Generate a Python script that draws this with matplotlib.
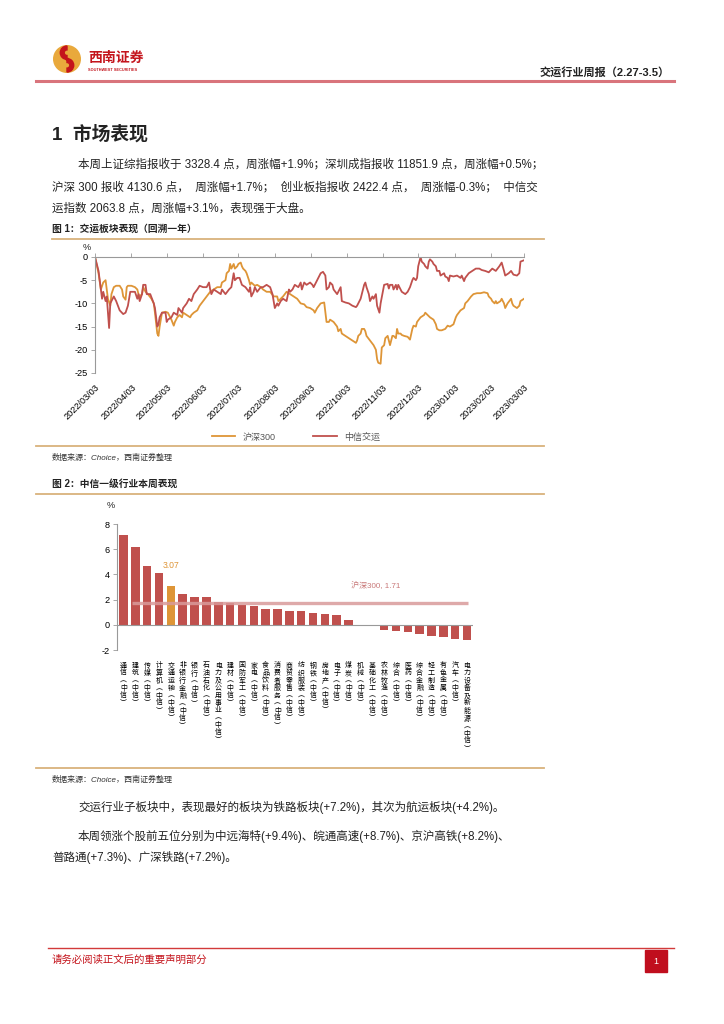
import matplotlib
matplotlib.use("Agg")
import matplotlib.pyplot as plt
from matplotlib.lines import Line2D
from matplotlib.patches import Circle, Rectangle, Wedge
import pandas as pd

plt.rcParams['font.family'] = ['Liberation Sans', 'Noto Sans CJK SC', 'DejaVu Sans']
plt.rcParams['axes.unicode_minus'] = False

# ======================
# DATA
# ======================
START = pd.Timestamp("2022-03-03")

# 中信交运, cumulative % since 2022/03/03 (days after start, value)
jy_days = [0, 3, 6, 7, 9, 10, 12, 13, 16, 18, 21, 24, 26, 28, 30, 34, 36, 37, 38, 40,
           41, 43, 44, 47, 50, 51, 53, 54, 55, 57, 60, 61, 62, 65, 67, 70, 71, 74, 75, 78,
           80, 82, 84, 87, 89, 92, 95, 97, 98, 99, 101, 104, 107, 108, 111, 114, 116, 118, 119, 121,
           123, 125, 128, 131, 132, 133, 135, 136, 138, 141, 143, 146, 149, 151, 152, 153, 155, 156, 158, 160,
           163, 165, 166, 168, 170, 173, 175, 176, 178, 180, 183, 185, 186, 189, 192, 194, 196, 197, 199, 200,
           202, 203, 206, 209, 210, 213, 216, 219, 222, 223, 226, 229, 230, 231, 233, 234, 236, 237, 239, 240,
           242, 243, 246, 249, 250, 251, 253, 254, 256, 257, 258, 261, 264, 266, 268, 270, 271, 273, 274, 275,
           277, 278, 280, 281, 283, 284, 285, 287, 288, 290, 291, 293, 294, 297, 298, 300, 301, 302, 305, 308,
           311, 312, 314, 315, 318, 321, 324, 327, 329, 332, 335, 338, 341, 344, 346, 348, 349, 352, 354, 356,
           359, 361, 362, 365]
jy_vals = [0, -3, -9, -7.5, -9.5, -8.5, -15.3, -10, -8.5, -9.5, -11.5, -12.3, -12, -10.5, -7.5, -7.5, -9, -8, -9.5, -8,
           -6, -6, -8, -8, -10, -11, -15, -14.5, -13, -12, -12, -14, -13.5, -13, -12, -12.5, -11, -12, -11, -10,
           -9, -9.5, -8, -7, -6.2, -6.5, -6.5, -5.5, -7, -8, -7, -7.5, -8, -7, -8, -7, -6.5, -3.5, -5, -4.5,
           -4.5, -6, -6.5, -7.5, -6.5, -8.5, -7.5, -6.5, -7.5, -6.5, -6.5, -6, -6.5, -8, -9.5, -11, -10, -10.5, -9.5, -9,
           -9.5, -7, -7.5, -7, -6, -6.5, -5.5, -7, -5.5, -6, -5.5, -6, -6.5, -5, -3.5, -3.2, -4, -7, -6.5, -5.5,
           -6, -7, -8, -6.5, -9.5, -9.8, -10, -10.5, -10.8, -10.5, -9, -6, -5.5, -6.5, -8, -9.5, -8.5, -9, -8, -10.5,
           -12, -10, -6, -5.8, -6.8, -6, -6, -7, -6, -7, -6, -7.5, -8, -7.5, -6.5, -5, -4.5, -5, -4.5, -2,
           0, -1, -1.5, -2, -2.5, -1, -0.5, -1, -1.5, -2, -3, -3, -4, -3.5, -4.2, -4.5, -5.2, -4, -4.2, -4,
           -4.5, -4, -5.2, -4.5, -3.5, -3, -2.5, -2.5, -2.8, -3, -3.3, -2.5, -3, -2, -1.2, -3, -4, -3.5, -3, -3.8,
           -4, -3.5, -1, -0.7]

# 沪深300, cumulative % since 2022/03/03
hs_days = [0, 3, 5, 7, 9, 10, 11, 13, 14, 16, 18, 21, 23, 24, 26, 27, 28, 31, 34, 36,
           37, 38, 40, 41, 43, 45, 48, 50, 51, 53, 54, 55, 57, 60, 62, 65, 67, 68, 70, 72,
           74, 75, 78, 81, 82, 84, 87, 89, 92, 95, 98, 101, 104, 107, 108, 111, 112, 114, 115, 116,
           118, 119, 121, 122, 124, 125, 126, 128, 129, 131, 132, 133, 136, 138, 141, 143, 146, 149, 152, 155,
           156, 158, 160, 163, 166, 169, 172, 175, 178, 180, 183, 186, 187, 189, 192, 195, 196, 197, 199, 200,
           203, 206, 207, 209, 210, 213, 216, 219, 222, 223, 224, 226, 227, 229, 230, 231, 234, 237, 239, 240,
           241, 243, 244, 246, 247, 249, 250, 251, 253, 254, 256, 257, 258, 260, 261, 263, 266, 268, 270, 271,
           273, 274, 277, 280, 281, 283, 285, 288, 290, 291, 293, 295, 298, 300, 302, 305, 307, 308, 311, 314,
           315, 317, 320, 322, 325, 328, 331, 334, 335, 337, 338, 340, 341, 342, 345, 346, 348, 349, 351, 354,
           355, 356, 359, 361, 362, 365]
hs_vals = [0, -3.5, -7, -5.5, -5, -7, -9, -10.5, -8, -6.5, -6.2, -6.2, -7, -8.5, -9.2, -6.5, -6.2, -6.2, -6.5, -7,
           -8, -8.5, -8, -6.5, -7.5, -8, -9, -10, -12, -16.5, -17, -15, -12, -11.8, -12, -13.5, -14.8, -14, -13, -12.5,
           -13, -12, -12.5, -13, -12.5, -12, -11.5, -10.5, -9.5, -8.5, -7.5, -7, -6.5, -6.5, -5.5, -5, -3.5, -3, -1.5, -2.5,
           -1.5, -2.5, -2, -1.5, -1.2, -2, -2.5, -3, -3.5, -5, -6, -5.5, -6.2, -6, -6.5, -7, -7.5, -7.5, -8.5, -8.5,
           -9.5, -9, -8.5, -7.5, -8, -8.5, -9, -10, -10.2, -10.8, -11, -11.5, -12, -11, -10, -9.8, -12, -14, -14, -13.5,
           -14, -15, -16, -15.5, -16.5, -17, -17.5, -18, -18.5, -18, -17, -16.5, -15.5, -15.5, -16, -17, -18, -19, -20, -22,
           -22.8, -23, -19.5, -19, -17.5, -17, -18, -19, -17, -17, -17.5, -15.5, -16.5, -16.5, -16.8, -17, -17.2, -17.8, -15.5, -14.8,
           -15, -14, -13, -12.5, -12, -12.5, -13, -13.5, -14.5, -15.5, -15.8, -15.8, -15.5, -14.8, -15, -14.5, -13, -12.5, -11.5, -11,
           -10, -9.5, -8.5, -8, -7.8, -7.8, -7.6, -7.8, -8.5, -9, -9.5, -10, -9.5, -10, -9.5, -9, -10, -11, -10, -9,
           -10, -10.5, -11, -10.5, -9.5, -9]

# 中信一级行业本周涨跌幅 (%)
industries = ["通信", "建筑", "传媒", "计算机", "交通运输", "非银行金融", "银行", "石油石化",
              "电力及公用事业", "建材", "国防军工", "家电", "食品饮料", "消费者服务", "商贸零售",
              "纺织服装", "钢铁", "房地产", "电子", "煤炭", "机械", "基础化工", "农林牧渔", "综合",
              "医药", "综合金融", "轻工制造", "有色金属", "汽车", "电力设备及新能源"]
ind_chg = [7.15, 6.15, 4.65, 4.1, 3.07, 2.48, 2.2, 2.2, 1.8, 1.73, 1.55, 1.49, 1.28, 1.23, 1.12,
           1.07, 0.9, 0.83, 0.77, 0.4, 0.02, -0.1, -0.43, -0.5, -0.59, -0.75, -0.9, -0.99, -1.15, -1.2]
hs300_week = 1.71

RED = "#C0504D"
ORANGE = "#DE9537"
GOLD = "#D9B27C"
TXT = "#222222"

W, H = 724, 1024
fig = plt.figure(figsize=(W / 100, H / 100), dpi=100)


def fx(x):
    return x / W


def fy(y):
    return 1 - y / H


def hline(x0, x1, y, color, lw):
    fig.add_artist(Line2D([fx(x0), fx(x1)], [fy(y), fy(y)], transform=fig.transFigure,
                          color=color, lw=lw))


def txt(x, y, s, **kw):
    kw.setdefault("va", "center")
    kw.setdefault("color", TXT)
    fig.text(fx(x), fy(y), s, **kw)


# ======================
# HEADER
# ======================
logo = fig.add_axes([fx(53), fy(73), fx(28), 28 / H])
logo.set_xlim(-1, 1)
logo.set_ylim(-1, 1)
logo.set_aspect("equal")
logo.axis("off")
logo.add_patch(Circle((0, 0), 0.95, color="#E9A93C"))
logo.add_patch(Wedge((0.0, 0.45), 0.48, 90, 270, width=0.28, color="#C4141C"))
logo.add_patch(Wedge((0.0, -0.45), 0.48, -90, 90, width=0.28, color="#C4141C"))
logo.add_patch(Rectangle((-0.05, -0.07), 0.1, 0.14, color="#C4141C"))

txt(88, 58, "西南证券", fontsize=10, fontweight="bold", color="#C4141C")
txt(88, 70, "SOUTHWEST SECURITIES", fontsize=2.8, fontweight="bold", color="#C4141C")
txt(670, 72, "交运行业周报（2.27-3.5）", fontsize=8, fontweight="bold", ha="right")
hline(36, 674, 81, "#D9747C", 2.2)

# ======================
# SECTION TEXT
# ======================
txt(52, 134, "1  市场表现", fontsize=13.5, fontweight="bold")
txt(78, 164, "本周上证综指报收于 3328.4 点，周涨幅+1.9%；深圳成指报收 11851.9 点，周涨幅+0.5%；", fontsize=8.3)
txt(52, 187, "沪深 300 报收 4130.6 点，  周涨幅+1.7%；  创业板指报收 2422.4 点，  周涨幅-0.3%；  中信交", fontsize=8.3)
txt(52, 209, "运指数 2063.8 点，周涨幅+3.1%，表现强于大盘。", fontsize=8.3)

txt(52, 229, "图 1：交运板块表现（回溯一年）", fontsize=7, fontweight="bold")
hline(52, 544, 239, GOLD, 1.3)

# ======================
# FIG 1: LINE CHART
# ======================
ax1 = fig.add_axes([fx(95), fy(373), (524 - 95) / W, (373 - 257) / H])
jy_dates = START + pd.to_timedelta(jy_days, unit="D")
hs_dates = START + pd.to_timedelta(hs_days, unit="D")
l_hs, = ax1.plot(hs_dates, hs_vals, color=ORANGE, lw=1.3, label="沪深300")
l_jy, = ax1.plot(jy_dates, jy_vals, color=RED, lw=1.3, label="中信交运")

ticks = pd.date_range("2022-03-03", "2023-03-03", freq=pd.DateOffset(months=1))
ax1.set_xticks(ticks)
ax1.set_xticklabels([t.strftime("%Y/%m/%d") for t in ticks], rotation=45, ha="right",
                    rotation_mode="anchor", fontsize=6.6)
ax1.set_xlim(ticks[0], ticks[-1])
ax1.set_ylim(-25, 0)
ax1.set_yticks([0, -5, -10, -15, -20, -25])
ax1.tick_params(axis="y", labelsize=6.6, length=3, color="#999999", width=0.6, pad=2)
ax1.tick_params(axis="x", top=True, bottom=False, labeltop=False, labelbottom=True,
                length=3, color="#999999", width=0.6, pad=4)
for side in ["right", "bottom"]:
    ax1.spines[side].set_visible(False)
for side in ["left", "top"]:
    ax1.spines[side].set_color("#999999")
    ax1.spines[side].set_linewidth(0.8)
txt(83, 248, "%", fontsize=6.6)

fig.legend(handles=[l_hs, l_jy], loc="center", bbox_to_anchor=(fx(296), fy(437)), ncol=2,
           frameon=False, fontsize=6.5, handlelength=2.6, columnspacing=4.2, labelcolor="#555555")
hline(36, 544, 446, GOLD, 1.3)
txt(52, 458, "数据来源：Choice，西南证券整理", fontsize=5.8, style="italic", color="#333333")

# ======================
# FIG 2: BAR CHART
# ======================
txt(52, 484, "图 2：中信一级行业本周表现", fontsize=7, fontweight="bold")
hline(36, 544, 494, GOLD, 1.3)

ax2 = fig.add_axes([fx(117), fy(650), (473 - 117) / W, (650 - 524) / H])
xs = list(range(len(industries)))
colors = [ORANGE if name == "交通运输" else RED for name in industries]
ax2.bar(xs, ind_chg, width=0.72, color=colors)
ax2.hlines(hs300_week, 0.7, len(industries) - 0.96, color="#D99A9A", lw=2.4, alpha=0.85, zorder=3)
ax2.text(21.3, 3.1, f"沪深300, {hs300_week}", color="#C87878", fontsize=5.8, ha="center", va="center")
i_jt = industries.index("交通运输")
ax2.text(i_jt, ind_chg[i_jt] + 1.65, f"{ind_chg[i_jt]:.2f}", color=ORANGE, fontsize=6.2,
         ha="center", va="center")
ax2.axhline(0, color="#999999", lw=0.8)
ax2.set_xlim(-0.55, len(industries) - 0.5)
ax2.set_ylim(-2, 8)
ax2.set_yticks([-2, 0, 2, 4, 6, 8])
ax2.tick_params(axis="y", labelsize=6.6, length=3, color="#999999", width=0.6, pad=2)
ax2.set_xticks(xs)
ax2.set_xticklabels(["\n".join(name + "︵中信︶") for name in industries], fontsize=5.0,
                    linespacing=1.1)
ax2.tick_params(axis="x", length=0, pad=9)
for side in ["right", "top", "bottom"]:
    ax2.spines[side].set_visible(False)
ax2.spines["left"].set_color("#999999")
ax2.spines["left"].set_linewidth(0.8)
txt(107, 506, "%", fontsize=6.6)

hline(36, 544, 768, GOLD, 1.3)
txt(52, 780, "数据来源：Choice，西南证券整理", fontsize=5.8, style="italic", color="#333333")

txt(78, 807, "交运行业子板块中，表现最好的板块为铁路板块(+7.2%)，其次为航运板块(+4.2%)。", fontsize=8.3)
txt(78, 836, "本周领涨个股前五位分别为中远海特(+9.4%)、皖通高速(+8.7%)、京沪高铁(+8.2%)、", fontsize=8.3)
txt(52, 857, "普路通(+7.3%)、广深铁路(+7.2%)。", fontsize=8.3)

# ======================
# FOOTER
# ======================
hline(48, 674, 948, "#D23A3A", 1.0)
txt(52, 960, "请务必阅读正文后的重要声明部分", fontsize=7.5, color="#C4141C")
fig.add_artist(Rectangle((fx(645), fy(972)), 22 / W, 22 / H, transform=fig.transFigure,
                         color="#C00E1E"))
txt(656, 961, "1", fontsize=6.5, color="white", ha="center")

fig.savefig("out.png", dpi=100)
